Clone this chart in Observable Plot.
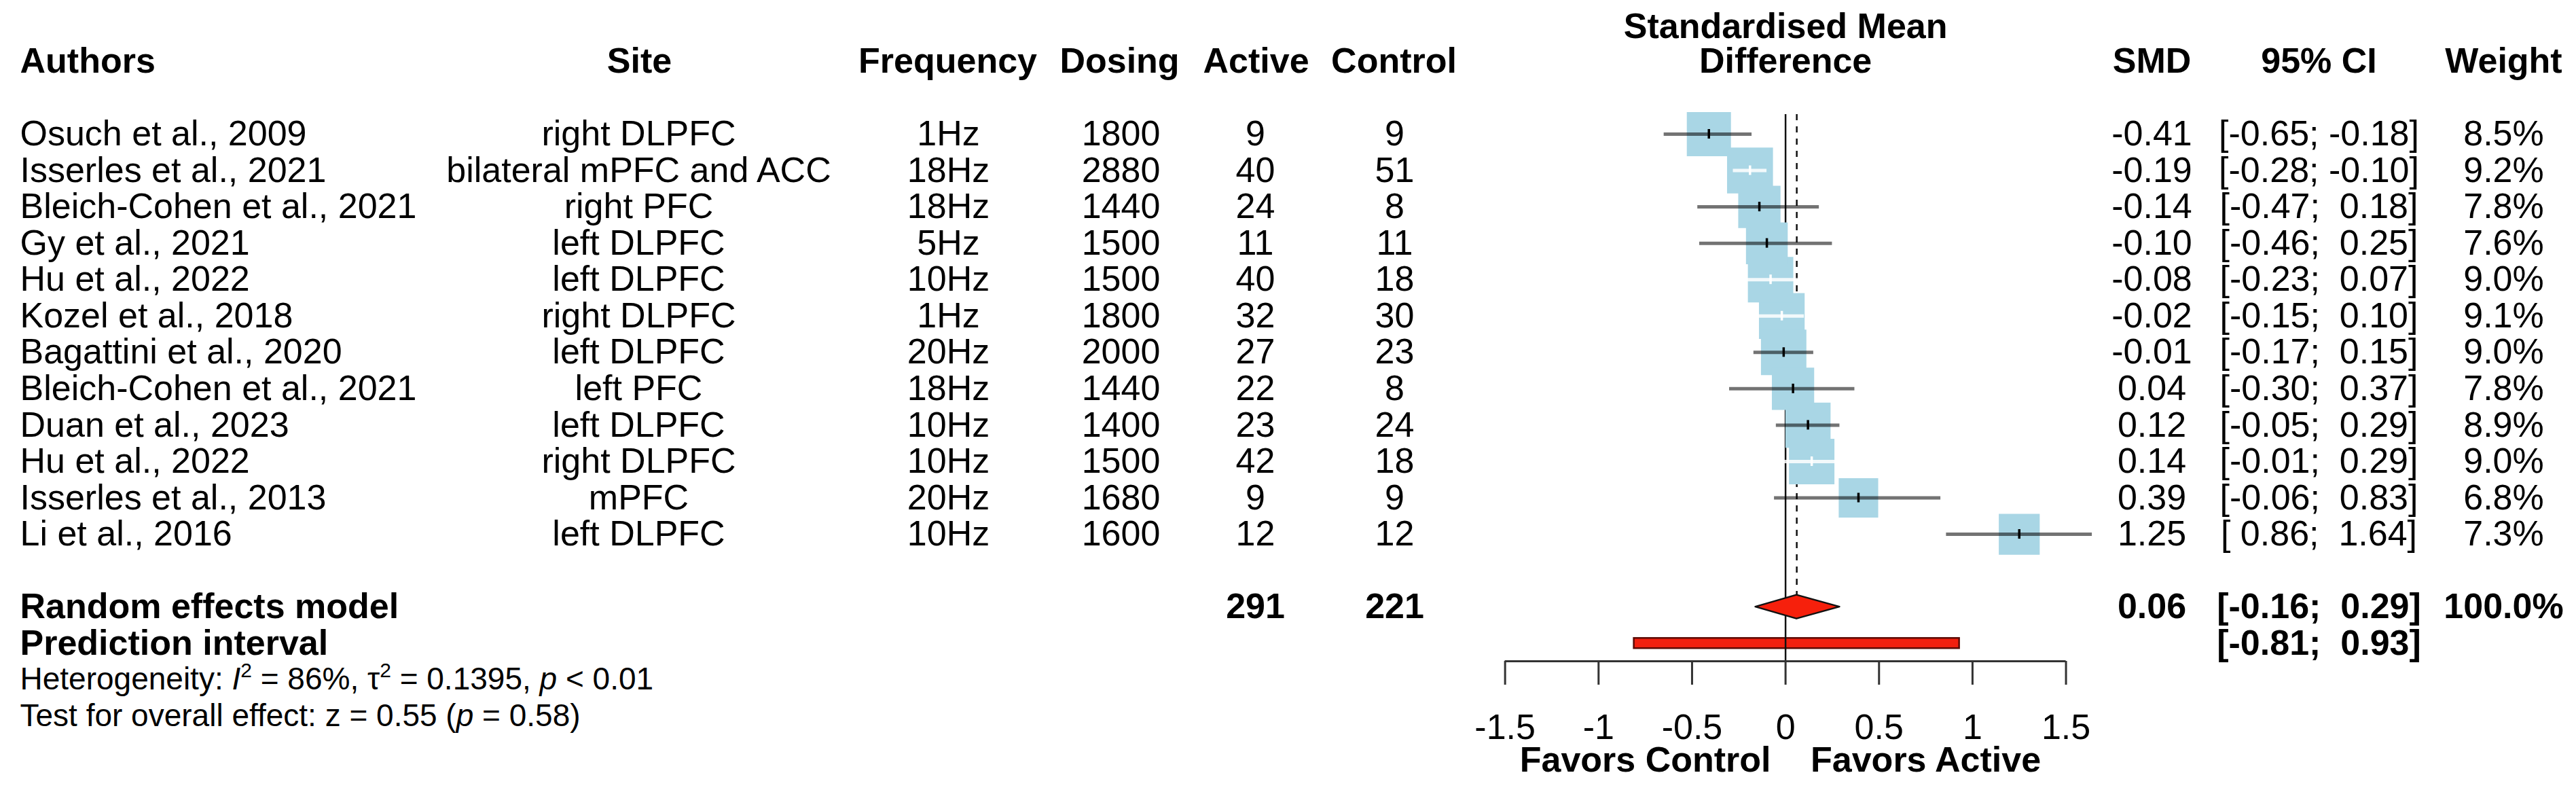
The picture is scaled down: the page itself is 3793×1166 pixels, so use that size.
<!DOCTYPE html>
<html>
<head>
<meta charset="utf-8">
<script src="https://cdn.jsdelivr.net/npm/d3@7"></script>
<script src="https://cdn.jsdelivr.net/npm/@observablehq/plot@0.6"></script>
<style>
  html, body { margin: 0; padding: 0; background: #fff; }
  #chart svg { display: block; }
</style>
</head>
<body>
<div id="chart"></div>
<script>
// ---------------- DATA ----------------
const authors = [
  "Osuch et al., 2009", "Isserles et al., 2021", "Bleich-Cohen et al., 2021",
  "Gy et al., 2021", "Hu et al., 2022", "Kozel et al., 2018",
  "Bagattini et al., 2020", "Bleich-Cohen et al., 2021", "Duan et al., 2023",
  "Hu et al., 2022", "Isserles et al., 2013", "Li et al., 2016"
];
const sites = [
  "right DLPFC", "bilateral mPFC and ACC", "right PFC", "left DLPFC", "left DLPFC",
  "right DLPFC", "left DLPFC", "left PFC", "left DLPFC", "right DLPFC", "mPFC", "left DLPFC"
];
const frequency = ["1Hz", "18Hz", "18Hz", "5Hz", "10Hz", "1Hz", "20Hz", "18Hz", "10Hz", "10Hz", "20Hz", "10Hz"];
const dosing = [1800, 2880, 1440, 1500, 1500, 1800, 2000, 1440, 1400, 1500, 1680, 1600];
const nActive = [9, 40, 24, 11, 40, 32, 27, 22, 23, 42, 9, 12];
const nControl = [9, 51, 8, 11, 18, 30, 23, 8, 24, 18, 9, 12];
const smd = [-0.41, -0.19, -0.14, -0.10, -0.08, -0.02, -0.01, 0.04, 0.12, 0.14, 0.39, 1.25];
const ciLower = [-0.65, -0.28, -0.47, -0.46, -0.23, -0.15, -0.17, -0.30, -0.05, -0.01, -0.06, 0.86];
const ciUpper = [-0.18, -0.10, 0.18, 0.25, 0.07, 0.10, 0.15, 0.37, 0.29, 0.29, 0.83, 1.64];
const weight = [8.5, 9.2, 7.8, 7.6, 9.0, 9.1, 9.0, 7.8, 8.9, 9.0, 6.8, 7.3];

const totalActive = [291];
const totalControl = [221];
const pooledSMD = [0.06];
const pooledLower = [-0.16];
const pooledUpper = [0.29];
const pooledWeight = [100.0];
const predLower = [-0.81];
const predUpper = [0.93];
const hetI2 = ["86%"];
const hetTau2 = ["0.1395"];
const hetP = ["< 0.01"];
const overallZ = ["0.55"];
const overallP = ["0.58"];

const axisTicks = [-1.5, -1, -0.5, 0, 0.5, 1, 1.5];
const headerLabels = ["Authors", "Site", "Frequency", "Dosing", "Active", "Control", "SMD", "95% CI", "Weight"];
const smdHeader = ["Standardised Mean\nDifference"];
const favorLabels = ["Favors Control", "Favors Active"];
const summaryLabels = ["Random effects model", "Prediction interval"];

// ---------------- LAYOUT ----------------
const W = 3793, H = 1166;
const zeroPx = 2628.6, pxPerUnit = 275.3;   // horizontal geometry of the effect axis
const row1Px = 197, rowStep = 53.55;        // vertical geometry of the rows
const px2x = px => (px - zeroPx) / pxPerUnit;
const px2r = px => 1 + (px - row1Px) / rowStep;

const colPx = {author: 29, site: 940, freq: 1396, dosing: 1650, active: 1848, control: 2053, smd: 3168, ci: 3414, weight: 3686};
const headerPx = [colPx.author, 941, 1395, 1648, 1849, 2052, 3168, 3414, 3686];
const FONT = 52, FONT_SMALL = 46;
const headerRow = -1.0, pooledRow = 14, predRow = 15, hetRow = 16, testRow = 17;
const refTopRow = 0.46, axisRow = px2r(973), tickEndRow = px2r(1008), tickLabelRow = px2r(1071), favorRow = px2r(1119);
const diamondHalf = 17.5 / rowStep, predHalf = 7.5 / rowStep, centerHalf = 7 / rowStep;
const boxK = 22.3; // box side in px = boxK * sqrt(weight)

// ---------------- DERIVED ----------------
const f2 = v => v.toFixed(2);
const pad = v => (v < 0 ? "" : "\u00a0") + f2(v);
const ciText = (lo, hi) => "[" + pad(lo) + "; " + pad(hi) + "]";

const studies = authors.map((a, i) => {
  const side = boxK * Math.sqrt(weight[i]);
  const ciPx = (ciUpper[i] - ciLower[i]) * pxPerUnit;
  return {
    row: i + 1, author: a, site: sites[i], freq: frequency[i], dosing: dosing[i],
    active: nActive[i], control: nControl[i], smd: smd[i], lower: ciLower[i], upper: ciUpper[i],
    weight: weight[i], side, inside: ciPx < side * 1.28,
    smdText: f2(smd[i]), ciText: ciText(ciLower[i], ciUpper[i]), wText: weight[i].toFixed(1) + "%"
  };
});
const outside = studies.filter(d => !d.inside);
const inside = studies.filter(d => d.inside);

const diamond = [
  {x: pooledLower[0], y1: pooledRow, y2: pooledRow},
  {x: pooledSMD[0], y1: pooledRow - diamondHalf, y2: pooledRow + diamondHalf},
  {x: pooledUpper[0], y1: pooledRow, y2: pooledRow}
];
const predBar = [{x1: predLower[0], x2: predUpper[0]}];
const headersMid = headerLabels.slice(1).map((t, i) => ({t, x: px2x(headerPx[i + 1])}));

const summaryMid = [
  {t: String(totalActive[0]), x: px2x(colPx.active), y: pooledRow},
  {t: String(totalControl[0]), x: px2x(colPx.control), y: pooledRow},
  {t: f2(pooledSMD[0]), x: px2x(colPx.smd), y: pooledRow},
  {t: ciText(pooledLower[0], pooledUpper[0]), x: px2x(colPx.ci), y: pooledRow},
  {t: pooledWeight[0].toFixed(1) + "%", x: px2x(colPx.weight), y: pooledRow},
  {t: ciText(predLower[0], predUpper[0]), x: px2x(colPx.ci), y: predRow}
];
const hetLines = [
  {t: "Heterogeneity: I2 = " + hetI2[0] + ", \u03c42 = " + hetTau2[0] + ", p " + hetP[0], y: hetRow},
  {t: "Test for overall effect: z = " + overallZ[0] + " (p = " + overallP[0] + ")", y: testRow}
];

const textCommon = {fontSize: FONT, fill: "black", lineAnchor: "middle"};

const plot = Plot.plot({
  width: W, height: H,
  margin: 0,
  style: {fontFamily: "'Liberation Sans', Arial, Helvetica, sans-serif", background: "white", color: "black"},
  x: {domain: [px2x(0), px2x(W)], axis: null},
  y: {domain: [px2r(H), px2r(0)], axis: null},
  r: {type: "identity"},
  marks: [
    // prediction interval bar
    Plot.rect(predBar, {x1: "x1", x2: "x2", y1: predRow - predHalf, y2: predRow + predHalf, fill: "#f2200f", stroke: "#5a0a05", strokeWidth: 2.5}),
    // reference line at 0 and dashed pooled line
    Plot.ruleX([0], {x: d => d, y1: refTopRow, y2: axisRow, stroke: "#111", strokeWidth: 2.5}),
    Plot.ruleX(pooledSMD, {x: d => d, y1: refTopRow, y2: pooledRow - diamondHalf, stroke: "#111", strokeWidth: 2.5, strokeDasharray: "9,9"}),
    // study squares
    Plot.dot(studies, {x: "smd", y: "row", r: d => d.side / Math.sqrt(Math.PI), symbol: "square", fill: "#a9d6e5", stroke: null}),
    // confidence intervals
    Plot.ruleY(outside, {y: "row", x1: "lower", x2: "upper", stroke: "black", strokeOpacity: 0.55, strokeWidth: 5}),
    Plot.ruleY(inside, {y: "row", x1: "lower", x2: "upper", stroke: "white", strokeOpacity: 0.85, strokeWidth: 5}),
    Plot.ruleX(outside, {x: "smd", y1: d => d.row - centerHalf, y2: d => d.row + centerHalf, stroke: "black", strokeWidth: 3.5}),
    Plot.ruleX(inside, {x: "smd", y1: d => d.row - centerHalf, y2: d => d.row + centerHalf, stroke: "white", strokeWidth: 3.5}),
    // pooled diamond
    Plot.areaY(diamond, {x: "x", y1: "y1", y2: "y2", fill: "#f6200c", stroke: "#111", strokeWidth: 2.5}),
    // axis
    Plot.ruleY([axisRow], {y: d => d, x1: axisTicks[0], x2: axisTicks[axisTicks.length - 1], stroke: "#333", strokeWidth: 3}),
    Plot.ruleX(axisTicks, {x: d => d, y1: axisRow, y2: tickEndRow, stroke: "#333", strokeWidth: 3}),
    Plot.text(axisTicks, {x: d => d, y: tickLabelRow, text: d => String(d), ...textCommon}),
    Plot.text(favorLabels, {x: (d, i) => i === 0 ? -0.75 : 0.75, y: favorRow, text: d => d, ...textCommon, fontWeight: "bold"}),
    // headers
    Plot.text([headerLabels[0]], {x: px2x(headerPx[0]), y: headerRow, text: d => d, textAnchor: "start", ...textCommon, fontWeight: "bold"}),
    Plot.text(headersMid, {x: "x", y: headerRow, text: "t", textAnchor: "middle", ...textCommon, fontWeight: "bold"}),
    Plot.text(smdHeader, {x: 0, y: -1.47, text: d => d, ...textCommon, fontWeight: "bold", lineHeight: 0.97}),
    // study columns
    Plot.text(studies, {x: px2x(colPx.author), y: "row", text: "author", textAnchor: "start", ...textCommon}),
    Plot.text(studies, {x: px2x(colPx.site), y: "row", text: "site", ...textCommon}),
    Plot.text(studies, {x: px2x(colPx.freq), y: "row", text: "freq", ...textCommon}),
    Plot.text(studies, {x: px2x(colPx.dosing), y: "row", text: d => String(d.dosing), ...textCommon}),
    Plot.text(studies, {x: px2x(colPx.active), y: "row", text: d => String(d.active), ...textCommon}),
    Plot.text(studies, {x: px2x(colPx.control), y: "row", text: d => String(d.control), ...textCommon}),
    Plot.text(studies, {x: px2x(colPx.smd), y: "row", text: "smdText", ...textCommon}),
    Plot.text(studies, {x: px2x(colPx.ci), y: "row", text: "ciText", ...textCommon}),
    Plot.text(studies, {x: px2x(colPx.weight), y: "row", text: "wText", ...textCommon}),
    // summary rows
    Plot.text(summaryLabels, {x: px2x(colPx.author), y: (d, i) => i === 0 ? pooledRow : predRow, text: d => d, textAnchor: "start", ...textCommon, fontWeight: "bold"}),
    Plot.text(summaryMid, {x: "x", y: "y", text: "t", textAnchor: "middle", ...textCommon, fontWeight: "bold"}),
    // heterogeneity
    Plot.text(hetLines, {x: px2x(colPx.author), y: "y", text: "t", textAnchor: "start", ...textCommon, fontSize: FONT_SMALL})
  ]
});

document.getElementById("chart").appendChild(plot);

// rich text (italic symbols and superscripts) for the heterogeneity lines
const NS = "http://www.w3.org/2000/svg";
function richify(el, parts) {
  while (el.firstChild) el.removeChild(el.firstChild);
  let raised = false;
  for (const p of parts) {
    const ts = document.createElementNS(NS, "tspan");
    ts.textContent = p.t;
    if (p.i) ts.setAttribute("font-style", "italic");
    if (p.sup) { ts.setAttribute("font-size", 30); ts.setAttribute("dy", -18); raised = true; }
    else if (raised) { ts.setAttribute("dy", 18); raised = false; }
    el.appendChild(ts);
  }
}
plot.querySelectorAll("text").forEach(el => {
  const s = el.textContent;
  if (s.startsWith("Heterogeneity")) {
    richify(el, [
      {t: "Heterogeneity: "}, {t: "I", i: true}, {t: "2", sup: true},
      {t: " = " + hetI2[0] + ", \u03c4"}, {t: "2", sup: true},
      {t: " = " + hetTau2[0] + ", "}, {t: "p", i: true}, {t: " " + hetP[0]}
    ]);
  } else if (s.startsWith("Test for overall")) {
    richify(el, [
      {t: "Test for overall effect: z = " + overallZ[0] + " ("}, {t: "p", i: true}, {t: " = " + overallP[0] + ")"}
    ]);
  }
});
</script>
</body>
</html>
